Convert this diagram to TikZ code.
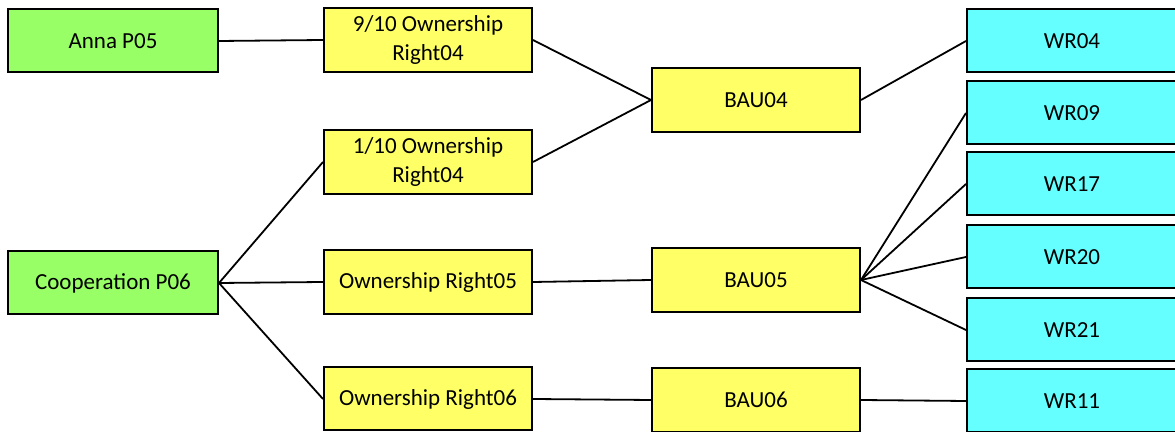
\documentclass[tikz,border=0pt]{standalone}
\usepackage{fontspec}
\setmainfont{Carlito}
\definecolor{pgreen}{HTML}{99FF66}
\definecolor{pyellow}{HTML}{FFFF66}
\definecolor{pcyan}{HTML}{66FFFF}
\begin{document}
\begin{tikzpicture}[x=0.5pt,y=-0.5pt,
  box/.style={draw=black,line width=1pt,minimum width=104pt,minimum height=31.5pt,inner sep=1pt,align=center,font=\fontsize{11.5pt}{14.5pt}\selectfont},
  gbox/.style={box,fill=pgreen},
  ybox/.style={box,fill=pyellow},
  cbox/.style={box,fill=pcyan,minimum width=105pt},
  conn/.style={draw=black,line width=0.9pt}]
\clip (0,0) rectangle (1175,432);
\fill[white] (0,0) rectangle (1175,432);
\node[gbox,minimum width=105pt] (anna) at (113,41) {Anna P05};
\node[gbox,minimum width=105pt] (coop) at (113,283) {Cooperation P06};
\node[ybox,minimum height=32pt] (ora) at (428,40) {9/10 Ownership\\Right04};
\node[ybox,minimum height=32pt] (orb) at (428,162) {1/10 Ownership\\Right04};
\node[ybox,minimum height=32pt] (orc) at (428,282) {Ownership Right05};
\node[ybox] (ord) at (428,399) {Ownership Right06};
\node[ybox,minimum height=32pt] (bau4) at (756,100) {BAU04};
\node[ybox,minimum height=32pt] (bau5) at (756,280) {BAU05};
\node[ybox,minimum height=32pt] (bau6) at (756,400) {BAU06};
\node[cbox] (wr4) at (1072,41) {WR04};
\node[cbox] (wr9) at (1072,113) {WR09};
\node[cbox] (wr17) at (1072,184) {WR17};
\node[cbox] (wr20) at (1072,257) {WR20};
\node[cbox] (wr21) at (1072,330) {WR21};
\node[cbox] (wr11) at (1072,401) {WR11};
\draw[conn] (anna.east) -- (ora.west);
\draw[conn] (coop.east) -- (orb.west);
\draw[conn] (coop.east) -- (orc.west);
\draw[conn] (coop.east) -- (ord.west);
\draw[conn] (ora.east) -- (bau4.west);
\draw[conn] (orb.east) -- (bau4.west);
\draw[conn] (orc.east) -- (bau5.west);
\draw[conn] (ord.east) -- (bau6.west);
\draw[conn] (bau4.east) -- (wr4.west);
\draw[conn] (bau5.east) -- (wr9.west);
\draw[conn] (bau5.east) -- (wr17.west);
\draw[conn] (bau5.east) -- (wr20.west);
\draw[conn] (bau5.east) -- (wr21.west);
\draw[conn] (bau6.east) -- (wr11.west);
\end{tikzpicture}
\end{document}
